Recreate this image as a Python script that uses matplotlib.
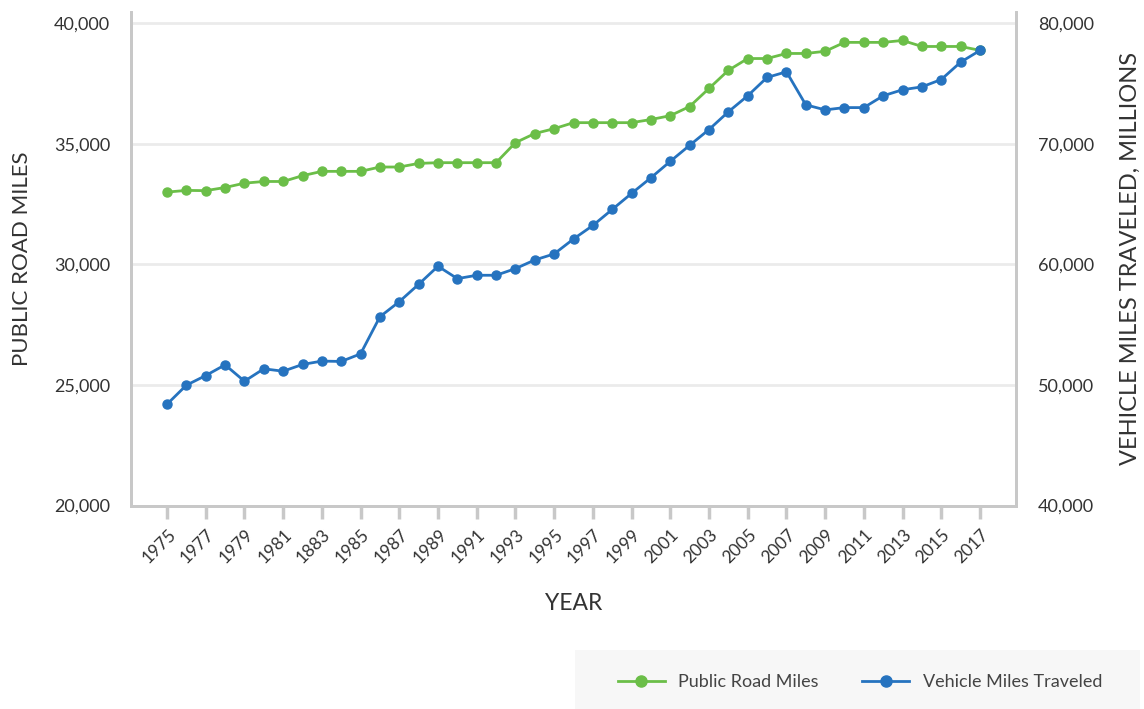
import matplotlib
matplotlib.use("Agg")
import matplotlib.pyplot as plt
import matplotlib.transforms as mtransforms
from matplotlib.patches import Rectangle
from matplotlib.lines import Line2D

years = list(range(1975, 2018))
road_miles = [33000, 33070, 33060, 33190, 33370, 33440, 33440, 33680, 33860, 33860,
              33860, 34040, 34040, 34190, 34220, 34220, 34220, 34220, 35050, 35430,
              35630, 35880, 35880, 35880, 35880, 36010, 36170, 36550, 37300, 38050,
              38540, 38540, 38750, 38750, 38840, 39210, 39210, 39210, 39290, 39040,
              39040, 39040, 38880]
vmt = [48400, 49980, 50780, 51670, 50310, 51340, 51140, 51700, 51980, 51950,
       52580, 55660, 56910, 58350, 59850, 58820, 59100, 59100, 59650, 60370,
       60870, 62110, 63230, 64560, 65890, 67190, 68550, 69880, 71190, 72660,
       73990, 75510, 75980, 73240, 72820, 73010, 73010, 73990, 74490, 74730,
       75340, 76780, 77750]
tick_years = list(range(1975, 2018, 2))
tick_labels = ["1975", "1977", "1979", "1981", "1883", "1985", "1987", "1989", "1991",
               "1993", "1995", "1997", "1999", "2001", "2003", "2005", "2007", "2009",
               "2011", "2013", "2015", "2017"]
left_ticks = [20000, 25000, 30000, 35000, 40000]
right_ticks = [40000, 50000, 60000, 70000, 80000]

plt.rcParams['font.family'] = ['Lato', 'DejaVu Sans']
GREEN = "#6bbe48"
BLUE = "#2673bf"
SPINE = "#c8c8c8"
TXT = "#333333"

fig = plt.figure(figsize=(11.44, 7.09), dpi=100)
ax = fig.add_axes([131/1144, 1 - 505.5/709, (1016-131)/1144, (505.5-12)/709])
ax2 = ax.twinx()

ax.set_xlim(1973.14, 2018.86)
ax.set_ylim(20000, 40470)
ax2.set_ylim(40000, 80940)

ax.set_yticks(left_ticks)
ax.set_yticklabels([f"{v:,}" for v in left_ticks])
ax2.set_yticks(right_ticks)
ax2.set_yticklabels([f"{v:,}" for v in right_ticks])

ax.grid(axis='y', color="#ebebeb", linewidth=2)
ax.set_axisbelow(True)

ax.plot(years, road_miles, color=GREEN, linewidth=2, marker='o', markersize=6.5,
        label="Public Road Miles", zorder=3)
ax2.plot(years, vmt, color=BLUE, linewidth=2, marker='o', markersize=6.5,
         label="Vehicle Miles Traveled", zorder=3)

ax.set_xticks(tick_years)
ax.set_xticklabels([])
base = mtransforms.blended_transform_factory(ax.transData, ax.transAxes)
offset = mtransforms.ScaledTranslation(-8/100, -41/100, fig.dpi_scale_trans)
for yr, lab in zip(tick_years, tick_labels):
    ax.text(yr, 0, lab, transform=base + offset, rotation=45, ha='center', va='center',
            rotation_mode='anchor', fontsize=12.5, color=TXT, clip_on=False)

for a in (ax, ax2):
    a.spines['top'].set_visible(False)
    for s in ('left', 'right', 'bottom'):
        a.spines[s].set_color(SPINE)
        a.spines[s].set_linewidth(2)
ax.tick_params(axis='x', length=9, width=2.5, color=SPINE)
ax.tick_params(axis='y', length=0, labelsize=13, labelcolor=TXT, pad=15)
ax2.tick_params(axis='y', length=0, labelsize=13, labelcolor=TXT, pad=16)

ax.set_ylabel("PUBLIC ROAD MILES", fontsize=16, color=TXT, labelpad=16)
ax2.set_ylabel("VEHICLE MILES TRAVELED, MILLIONS", fontsize=17, color=TXT, labelpad=18)
ax.set_xlabel("YEAR", fontsize=16.5, color=TXT)
ax.xaxis.set_label_coords(0.5, -(604 - 505.5) / 493.5)
ax.xaxis.label.set_va('center')

# legend background
fig.patches.append(Rectangle((575/1144, 0), (1140-575)/1144, 59/709,
                             transform=fig.transFigure, facecolor="#f7f7f7",
                             edgecolor='none', zorder=0))
handles = [Line2D([], [], color=GREEN, linewidth=2, marker='o', markersize=8),
           Line2D([], [], color=BLUE, linewidth=2, marker='o', markersize=8)]
fig.legend(handles, ["Public Road Miles", "Vehicle Miles Traveled"], ncol=2,
           loc='center', bbox_to_anchor=(860/1144, 1 - 682/709), frameon=False,
           fontsize=13, labelcolor="#444444", handlelength=2.6, columnspacing=2.4,
           handletextpad=0.75)

fig.savefig("out.png", dpi=100)
